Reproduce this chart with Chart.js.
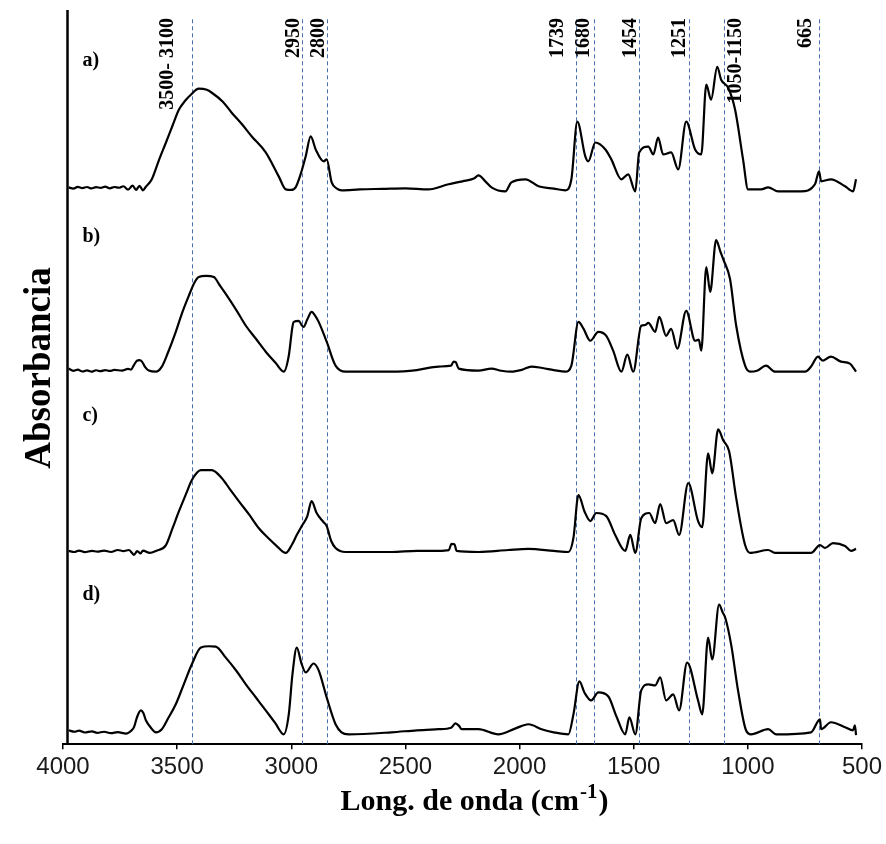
<!DOCTYPE html>
<html>
<head>
<meta charset="utf-8">
<script src="https://cdn.jsdelivr.net/npm/chart.js@4.4.1/dist/chart.umd.min.js"></script>
<style>
  html, body { margin: 0; padding: 0; background: #fff; }
  #wrap { width: 886px; height: 844px; }
</style>
</head>
<body>
<div id="wrap"><canvas id="ftir" width="886" height="844"></canvas></div>
<script>
// Espectros FTIR a)–d): pares [longitud de onda cm-1, absorbancia relativa del panel]
const SPEC_A = [
  [3975, 0.042], [3955, 0.035], [3935, 0.045], [3915, 0.038], [3895, 0.044], [3875, 0.036], [3855, 0.043],
  [3835, 0.039], [3815, 0.046], [3795, 0.037], [3775, 0.044], [3755, 0.040], [3735, 0.048], [3715, 0.030],
  [3695, 0.052], [3680, 0.028], [3665, 0.050], [3650, 0.026], [3637, 0.045], [3611, 0.086], [3580, 0.190],
  [3549, 0.287], [3520, 0.380], [3492, 0.467], [3465, 0.515], [3440, 0.548], [3405, 0.581], [3370, 0.575],
  [3348, 0.559], [3300, 0.510], [3261, 0.450], [3215, 0.385], [3173, 0.320], [3112, 0.233], [3055, 0.102],
  [3024, 0.031], [3000, 0.028], [2981, 0.042], [2960, 0.110], [2937, 0.211], [2915, 0.320], [2893, 0.249],
  [2858, 0.184], [2845, 0.195], [2823, 0.069], [2800, 0.035], [2779, 0.026], [2700, 0.031], [2600, 0.034],
  [2500, 0.037], [2400, 0.031], [2311, 0.059], [2250, 0.075], [2200, 0.090], [2180, 0.107], [2150, 0.075],
  [2123, 0.042], [2062, 0.020], [2036, 0.069], [1974, 0.086], [1917, 0.048], [1850, 0.035], [1799, 0.026],
  [1773, 0.086], [1747, 0.401], [1712, 0.211], [1699, 0.184], [1668, 0.287], [1624, 0.249], [1598, 0.195],
  [1554, 0.086], [1524, 0.113], [1493, 0.020], [1476, 0.233], [1436, 0.265], [1414, 0.222], [1393, 0.314],
  [1371, 0.222], [1336, 0.233], [1305, 0.140], [1270, 0.401], [1231, 0.249], [1204, 0.222], [1182, 0.603],
  [1161, 0.521], [1134, 0.701], [1117, 0.630], [1086, 0.586], [1056, 0.467], [1021, 0.195], [999, 0.031],
  [942, 0.031], [911, 0.042], [867, 0.020], [767, 0.020], [706, 0.059], [688, 0.129], [679, 0.075],
  [636, 0.086], [574, 0.048], [539, 0.020], [526, 0.086],
];
const SPEC_B = [
  [3975, 0.052], [3955, 0.040], [3935, 0.046], [3915, 0.036], [3895, 0.042], [3875, 0.035], [3855, 0.043],
  [3835, 0.038], [3815, 0.044], [3795, 0.039], [3775, 0.045], [3742, 0.041], [3715, 0.050], [3702, 0.046],
  [3690, 0.070], [3676, 0.095], [3665, 0.098], [3654, 0.090], [3640, 0.060], [3624, 0.041], [3593, 0.035],
  [3567, 0.063], [3540, 0.140], [3506, 0.253], [3480, 0.350], [3449, 0.449], [3425, 0.520], [3405, 0.552],
  [3374, 0.558], [3339, 0.552], [3315, 0.510], [3287, 0.460], [3240, 0.370], [3199, 0.286], [3155, 0.215],
  [3112, 0.144], [3070, 0.085], [3033, 0.035], [3011, 0.122], [2995, 0.280], [2989, 0.307], [2967, 0.313],
  [2955, 0.290], [2946, 0.280], [2930, 0.320], [2911, 0.362], [2895, 0.340], [2880, 0.307], [2845, 0.199],
  [2806, 0.068], [2762, 0.035], [2650, 0.035], [2561, 0.035], [2450, 0.044], [2355, 0.063], [2300, 0.068],
  [2289, 0.090], [2280, 0.088], [2267, 0.052], [2180, 0.041], [2123, 0.052], [2080, 0.040], [2036, 0.035],
  [1990, 0.045], [1948, 0.063], [1900, 0.055], [1850, 0.044], [1799, 0.035], [1773, 0.068], [1742, 0.307],
  [1720, 0.270], [1690, 0.204], [1655, 0.253], [1620, 0.231], [1590, 0.150], [1554, 0.035], [1528, 0.128],
  [1502, 0.035], [1467, 0.286], [1450, 0.290], [1436, 0.302], [1406, 0.253], [1388, 0.335], [1358, 0.231],
  [1336, 0.269], [1309, 0.161], [1270, 0.367], [1231, 0.204], [1215, 0.210], [1204, 0.150], [1182, 0.607],
  [1165, 0.471], [1139, 0.754], [1120, 0.690], [1108, 0.650], [1078, 0.541], [1051, 0.286], [1012, 0.068],
  [990, 0.035], [960, 0.040], [920, 0.068], [881, 0.035], [749, 0.035], [723, 0.063], [693, 0.117],
  [671, 0.095], [650, 0.110], [636, 0.117], [592, 0.090], [553, 0.079], [526, 0.035],
];
const SPEC_C = [
  [3975, 0.056], [3950, 0.050], [3930, 0.058], [3905, 0.049], [3873, 0.056], [3850, 0.052], [3820, 0.058],
  [3790, 0.050], [3760, 0.061], [3735, 0.055], [3711, 0.061], [3700, 0.048], [3689, 0.034], [3675, 0.055],
  [3660, 0.042], [3650, 0.058], [3620, 0.045], [3593, 0.056], [3549, 0.088], [3520, 0.180], [3492, 0.273],
  [3460, 0.370], [3436, 0.442], [3396, 0.497], [3348, 0.497], [3304, 0.453], [3270, 0.395], [3230, 0.328],
  [3185, 0.255], [3143, 0.181], [3100, 0.125], [3068, 0.088], [3024, 0.045], [2998, 0.088], [2975, 0.145],
  [2954, 0.192], [2930, 0.245], [2911, 0.328], [2889, 0.263], [2860, 0.215], [2845, 0.192], [2825, 0.110],
  [2806, 0.072], [2762, 0.050], [2561, 0.050], [2450, 0.056], [2355, 0.056], [2310, 0.060], [2298, 0.094],
  [2285, 0.092], [2276, 0.056], [2180, 0.050], [2050, 0.061], [1961, 0.067], [1850, 0.056], [1786, 0.050],
  [1764, 0.127], [1742, 0.361], [1715, 0.270], [1690, 0.219], [1664, 0.263], [1620, 0.246], [1580, 0.140],
  [1537, 0.056], [1515, 0.143], [1493, 0.045], [1467, 0.235], [1432, 0.263], [1406, 0.208], [1384, 0.312],
  [1358, 0.208], [1327, 0.224], [1301, 0.143], [1261, 0.426], [1218, 0.219], [1200, 0.186], [1174, 0.589],
  [1156, 0.480], [1130, 0.720], [1108, 0.660], [1082, 0.600], [1051, 0.344], [1012, 0.088], [990, 0.045],
  [911, 0.061], [881, 0.045], [723, 0.045], [684, 0.088], [662, 0.072], [627, 0.099], [574, 0.083],
  [548, 0.056], [526, 0.067],
];
const SPEC_D = [
  [3975, 0.076], [3950, 0.068], [3930, 0.074], [3905, 0.064], [3873, 0.070], [3850, 0.062], [3820, 0.068],
  [3790, 0.060], [3760, 0.066], [3724, 0.058], [3700, 0.075], [3689, 0.093], [3675, 0.150], [3659, 0.185],
  [3648, 0.170], [3637, 0.131], [3615, 0.090], [3593, 0.065], [3567, 0.082], [3540, 0.140], [3506, 0.218],
  [3470, 0.330], [3436, 0.435], [3396, 0.528], [3360, 0.535], [3331, 0.533], [3287, 0.473], [3240, 0.400],
  [3199, 0.327], [3155, 0.255], [3112, 0.185], [3070, 0.115], [3033, 0.054], [3011, 0.163], [2995, 0.380],
  [2976, 0.528], [2955, 0.440], [2937, 0.392], [2902, 0.441], [2880, 0.403], [2845, 0.256], [2806, 0.109],
  [2780, 0.065], [2749, 0.054], [2561, 0.065], [2450, 0.076], [2355, 0.082], [2300, 0.090], [2281, 0.114],
  [2265, 0.100], [2254, 0.082], [2180, 0.082], [2093, 0.054], [2020, 0.085], [1961, 0.109], [1900, 0.080],
  [1850, 0.065], [1786, 0.054], [1764, 0.163], [1738, 0.343], [1715, 0.280], [1686, 0.239], [1655, 0.283],
  [1611, 0.261], [1575, 0.150], [1537, 0.054], [1519, 0.147], [1493, 0.054], [1467, 0.294], [1436, 0.327],
  [1406, 0.321], [1384, 0.365], [1358, 0.239], [1327, 0.272], [1301, 0.185], [1266, 0.446], [1218, 0.239],
  [1200, 0.163], [1174, 0.582], [1156, 0.463], [1126, 0.762], [1110, 0.720], [1099, 0.691], [1073, 0.544],
  [1043, 0.294], [1008, 0.076], [986, 0.054], [911, 0.082], [876, 0.054], [723, 0.065], [684, 0.136],
  [679, 0.082], [636, 0.120], [574, 0.093], [539, 0.076], [531, 0.103], [526, 0.049],
];

const SPECTRA = [SPEC_A, SPEC_B, SPEC_C, SPEC_D];
const PANEL_LABELS = ['a)', 'b)', 'c)', 'd)'];
const PANEL_OFFSETS = [3, 2, 1, 0];          // cada espectro ocupa una franja de 1 unidad
const PANEL_LABEL_Y = [3.733, 2.771, 1.793, 0.815];
const PANEL_LABEL_X = 3915;

const PEAK_LINES = [3436, 2955, 2845, 1752, 1673, 1476, 1257, 1104, 688];
const PEAK_LABELS = ['3500- 3100', '2950', '2800', '1739', '1680', '1454', '1251', '1050-1150', '665'];
const PEAK_LABEL_DX = [-24, -8, -8, -18, -10, -8, -9, 12, -13];   // px respecto de la línea
const DASH_TOP = 3.96;

const X_TICKS = [4000, 3500, 3000, 2500, 2000, 1500, 1000, 500];
const X_TITLE = ['Long. de onda (cm', '-1', ')'];
const Y_TITLE = 'Absorbancia';

const SERIF = "'Liberation Serif', 'Times New Roman', serif";

const datasets = SPECTRA.map((spec, i) => ({
  label: PANEL_LABELS[i],
  data: spec.map(([wn, a]) => ({ x: wn, y: a + PANEL_OFFSETS[i] })),
  showLine: true,
  borderColor: '#000',
  borderWidth: 2.2,
  pointRadius: 0,
  fill: false,
  cubicInterpolationMode: 'monotone',
}));

const annotations = {
  id: 'ftirAnnotations',
  beforeDatasetsDraw(chart) {
    const { ctx, chartArea, scales: { x, y } } = chart;
    ctx.save();
    ctx.strokeStyle = '#4a6fb0';
    ctx.lineWidth = 1;
    ctx.setLineDash([4, 3]);
    PEAK_LINES.forEach((wn) => {
      const px = Math.round(x.getPixelForValue(wn)) + 0.5;
      ctx.beginPath();
      ctx.moveTo(px, y.getPixelForValue(DASH_TOP));
      ctx.lineTo(px, chartArea.bottom);
      ctx.stroke();
    });
    ctx.restore();
  },
  afterDraw(chart) {
    const { ctx, chartArea, scales: { x, y } } = chart;
    ctx.save();
    // eje Y (solo la línea)
    ctx.strokeStyle = '#000';
    ctx.lineWidth = 2.5;
    ctx.beginPath();
    ctx.moveTo(chartArea.left + 4.5, chartArea.top - 2);
    ctx.lineTo(chartArea.left + 4.5, chartArea.bottom);
    ctx.stroke();

    ctx.fillStyle = '#000';
    // etiquetas de los paneles
    ctx.font = `bold 20px ${SERIF}`;
    ctx.textAlign = 'left';
    ctx.textBaseline = 'middle';
    PANEL_LABELS.forEach((t, i) => {
      ctx.fillText(t, x.getPixelForValue(PANEL_LABEL_X), y.getPixelForValue(PANEL_LABEL_Y[i]));
    });

    // etiquetas de bandas, giradas
    ctx.font = `bold 20px ${SERIF}`;
    PEAK_LABELS.forEach((t, i) => {
      const px = x.getPixelForValue(PEAK_LINES[i]) + PEAK_LABEL_DX[i];
      ctx.save();
      ctx.translate(px, chartArea.top + 6);
      ctx.rotate(-Math.PI / 2);
      ctx.textAlign = 'right';
      ctx.textBaseline = 'middle';
      ctx.fillText(t, 0, 0);
      ctx.restore();
    });

    // título eje Y
    ctx.save();
    ctx.font = `bold 37px ${SERIF}`;
    ctx.translate(40, 368);
    ctx.rotate(-Math.PI / 2);
    ctx.textAlign = 'center';
    ctx.textBaseline = 'middle';
    ctx.fillText(Y_TITLE, 0, 0);
    ctx.restore();

    // título eje X con superíndice
    const big = `bold 30px ${SERIF}`;
    const small = `bold 21px ${SERIF}`;
    ctx.font = big;
    const w0 = ctx.measureText(X_TITLE[0]).width;
    const w2 = ctx.measureText(X_TITLE[2]).width;
    ctx.font = small;
    const w1 = ctx.measureText(X_TITLE[1]).width;
    const total = w0 + w1 + w2 + 2;
    const cx = (chartArea.left + chartArea.right) / 2 + 12;
    let tx = cx - total / 2;
    const base = 810;
    ctx.textAlign = 'left';
    ctx.textBaseline = 'alphabetic';
    ctx.font = big;
    ctx.fillText(X_TITLE[0], tx, base);
    tx += w0 + 1;
    ctx.font = small;
    ctx.fillText(X_TITLE[1], tx, base - 12);
    tx += w1 + 1;
    ctx.font = big;
    ctx.fillText(X_TITLE[2], tx, base);
    ctx.restore();
  },
};

new Chart(document.getElementById('ftir'), {
  type: 'scatter',
  data: { datasets },
  options: {
    responsive: false,
    animation: false,
    events: [],
    layout: { padding: { left: 63, right: 23, top: 12, bottom: 58 } },
    plugins: { legend: { display: false }, tooltip: { enabled: false } },
    scales: {
      x: {
        type: 'linear',
        min: 500,
        max: 4000,
        reverse: true,
        afterBuildTicks: (s) => { s.ticks = X_TICKS.map((v) => ({ value: v })); },
        ticks: {
          font: { family: "'Liberation Sans', Arial, sans-serif", size: 24 },
          color: '#1a1a1a',
          padding: 4,
          maxRotation: 0,
          autoSkip: false,
          callback: (v) => String(v),
        },
        grid: { display: true, drawOnChartArea: false, drawTicks: true, tickLength: 5, color: '#000', lineWidth: 1.5 },
        border: { display: true, color: '#000', width: 2 },
      },
      y: { display: false, min: 0, max: 4 },
    },
  },
  plugins: [annotations],
});
</script>
</body>
</html>
